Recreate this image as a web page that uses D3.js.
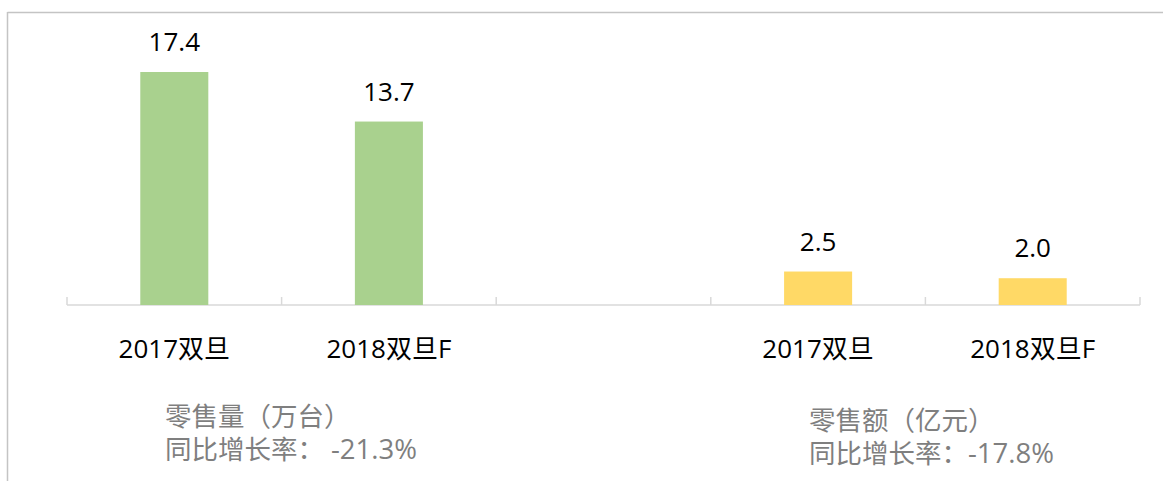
<!DOCTYPE html>
<html>
<head>
<meta charset="utf-8">
<script src="https://cdn.jsdelivr.net/npm/d3@7"></script>
<style>
  body{margin:0;background:#fff;}
  text{font-family:"Open Sans","Noto Sans CJK SC",sans-serif;}
</style>
</head>
<body>
<svg id="chart" width="1163" height="481"></svg>
<script>
// data
var periods  = ['2017双旦','2018双旦F'];
var volume   = [17.4, 13.7];   // 零售量（万台）
var revenue  = [2.5, 2.0];     // 零售额（亿元）
var titles   = ['零售量（万台）','零售额（亿元）'];
var growthLabel = ['同比增长率： ','同比增长率：'];
var growthValue = ['-21.3%','-17.8%'];
var colors   = ['#a9d18e','#ffd966'];

var bars = [];
periods.forEach(function(p,i){ bars.push({key:'vol-'+i,label:p,value:volume[i],color:colors[0]}); });
var slots = bars.map(b => b.key).concat(['gap']);
periods.forEach(function(p,i){ bars.push({key:'rev-'+i,label:p,value:revenue[i],color:colors[1]}); });
slots = slots.concat(['rev-0','rev-1']);

var svg = d3.select('#chart');
var base = 305;

// frame
svg.append('line').attr('x1',7.5).attr('x2',1163).attr('y1',12.5).attr('y2',12.5)
  .attr('stroke','#c4c4c4').attr('stroke-width',1.5);
svg.append('line').attr('x1',7.5).attr('x2',7.5).attr('y1',12).attr('y2',481)
  .attr('stroke','#c4c4c4').attr('stroke-width',1.5);

var x = d3.scaleBand().domain(slots).range([67,1140]).padding(0);
var y = d3.scaleLinear().domain([0,d3.max(volume)]).range([base,72]);
var bw = x.bandwidth()*0.317;

// axis line + boundary ticks
svg.append('line').attr('x1',67).attr('x2',1140).attr('y1',base).attr('y2',base)
  .attr('stroke','#d9d9d9').attr('stroke-width',1.5);
var edges = slots.map(s => x(s)).concat([x.range()[1]]);
svg.append('g').selectAll('line').data(edges).enter().append('line')
  .attr('x1',d => d).attr('x2',d => d).attr('y1',base-8).attr('y2',base)
  .attr('stroke','#d9d9d9').attr('stroke-width',1.5);

// bars
var g = svg.append('g').selectAll('.bar').data(bars).enter().append('g').attr('class','bar');
g.append('rect')
  .attr('x',d => x(d.key)+x.bandwidth()/2-bw/2)
  .attr('width',bw)
  .attr('y',d => y(d.value))
  .attr('height',d => base-y(d.value))
  .attr('fill',d => d.color);
g.append('text')
  .attr('x',d => x(d.key)+x.bandwidth()/2)
  .attr('y',d => y(d.value)-21)
  .attr('text-anchor','middle')
  .attr('font-size',26).attr('fill','#000')
  .text(d => d.value.toFixed(1));
g.append('text')
  .attr('x',d => x(d.key)+x.bandwidth()/2)
  .attr('y',358)
  .attr('text-anchor','middle')
  .attr('font-size',26).attr('fill','#000')
  .text(d => d.label);

// notes
var noteX = [165,809], noteY = [426,430];
titles.forEach(function(t,i){
  svg.append('text').attr('x',noteX[i]).attr('y',noteY[i])
    .attr('font-size',26.5).attr('fill','#7f7f7f').text(t);
  var l2 = svg.append('text').attr('x',noteX[i]).attr('y',noteY[i]+33)
    .attr('font-size',26.5).attr('fill','#7f7f7f').style('white-space','pre');
  l2.append('tspan').text(growthLabel[i]);
  l2.append('tspan').attr('font-size',27.5).text(growthValue[i]);
});
</script>
</body>
</html>
